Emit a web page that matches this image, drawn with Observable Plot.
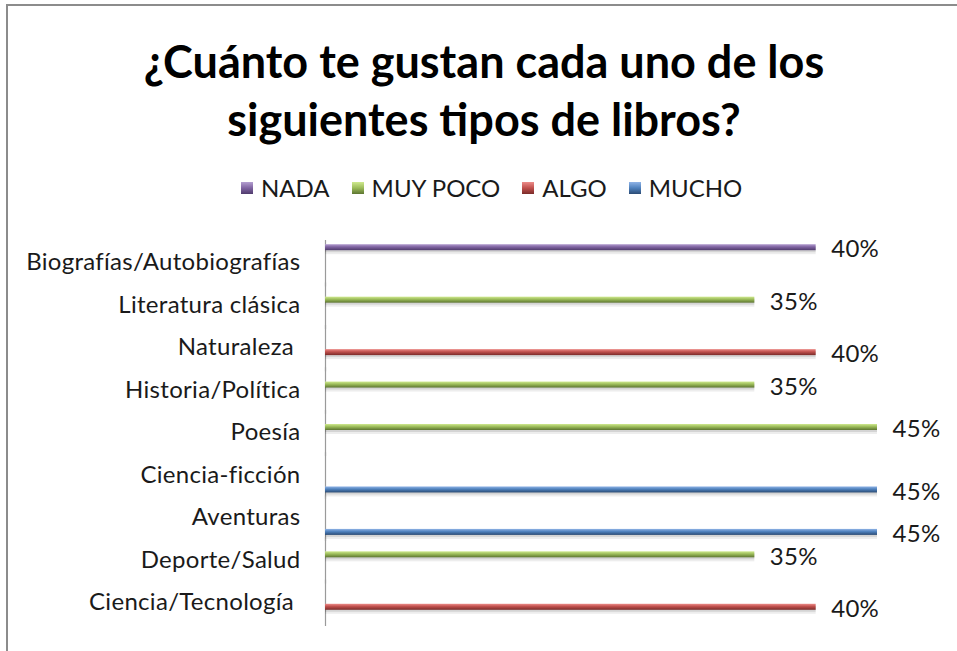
<!DOCTYPE html>
<html>
<head>
<meta charset="utf-8">
<script src="https://cdn.jsdelivr.net/npm/d3@7"></script>
<script src="https://cdn.jsdelivr.net/npm/@observablehq/plot@0.6"></script>
<style>
  html, body { margin: 0; padding: 0; background: #fff; }
  body { width: 957px; height: 651px; position: relative; overflow: hidden; font-family: Lato, "Open Sans", sans-serif; color: #1a1a1a; }
  #frame { position: absolute; left: 6px; top: 4px; width: 980px; height: 700px; border-left: 2px solid #8c8c8c; border-top: 2px solid #8c8c8c; }
  #title { position: absolute; left: 0; width: 968px; top: 32px; text-align: center; font-weight: 700; font-size: 45px; line-height: 58px; color: #000; }
  #legend { position: absolute; top: 173px; left: 241px; display: flex; align-items: center; font-size: 24px; letter-spacing: 0px; white-space: nowrap; }
  #legend .item { display: flex; align-items: center; margin-right: 22px; }
  #legend .sw { width: 12px; height: 12px; margin-right: 8px; }
  #chart { position: absolute; left: 0; top: 230px; }
  #chart svg text { letter-spacing: 0.3px; }
</style>
</head>
<body>
<div id="frame"></div>
<div id="title">¿Cuánto te gustan cada uno de los<br>siguientes tipos de libros?</div>
<div id="legend"></div>
<div id="chart"></div>
<script>
// ---- data ----
const categories = ["Biografías/Autobiografías", "Literatura clásica", "Naturaleza\u00a0", "Historia/Política", "Poesía", "Ciencia-ficción", "Aventuras", "Deporte/Salud", "Ciencia/Tecnología\u00a0"];
const values = [40, 35, 40, 35, 45, 45, 45, 35, 40];
const seriesOf = ["NADA", "MUY POCO", "ALGO", "MUY POCO", "MUY POCO", "MUCHO", "MUCHO", "MUY POCO", "ALGO"];
const seriesNames = ["NADA", "MUY POCO", "ALGO", "MUCHO"];
const seriesColors = ["#8064a2", "#9bbb59", "#c0504d", "#4f81bd"];
const seriesLight = ["#b49fd0", "#cfe98f", "#ec8c89", "#8fb3e6"];
const seriesDark = ["#4f3b6c", "#5d7531", "#7a2b29", "#2b4b74"];

const table = categories.map((c, i) => ({cat: c, value: values[i], serie: seriesOf[i]}));
const gradIds = seriesNames.map((s, i) => "grad" + i);

// ---- legend ----
const legend = document.getElementById("legend");
seriesNames.forEach((s, i) => {
  const it = document.createElement("div");
  it.className = "item";
  const sw = document.createElement("div");
  sw.className = "sw";
  sw.style.background = `linear-gradient(to bottom, ${seriesLight[i]}, ${seriesColors[i]} 50%, ${seriesDark[i]})`;
  const tx = document.createElement("span");
  tx.textContent = s;
  it.appendChild(sw); it.appendChild(tx);
  legend.appendChild(it);
});

// ---- chart ----
const chart = Plot.plot({
  width: 957,
  height: 400,
  marginLeft: 325,
  marginRight: 80,
  marginTop: 11,
  marginBottom: 7,
  style: {fontSize: "24px", fontFamily: "Lato, 'Open Sans', sans-serif", color: "#1a1a1a", background: "transparent", overflow: "visible"},
  x: {domain: [0, 45], axis: null},
  fy: {domain: categories, padding: 0, round: false, axis: null},
  y: {domain: seriesNames, paddingInner: 0.4, paddingOuter: 0.32, round: false, axis: null},
  color: {domain: seriesNames, range: gradIds.map(id => `url(#${id})`)},
  marks: [
    Plot.axisFy({anchor: "left", tickSize: 0, tickPadding: 25, label: null, fontSize: 24, fill: "#1a1a1a"}),
    Plot.ruleX([0], {stroke: "#9a9a9a", strokeWidth: 1.2, insetTop: -1, insetBottom: -3}),
    Plot.barX(table, {fy: "cat", y: "serie", x: "value", fill: "#000", fillOpacity: 0.07, dy: 3, insetTop: -1, insetBottom: -1}),
    Plot.barX(table, {fy: "cat", y: "serie", x: "value", fill: "#000", fillOpacity: 0.1, dy: 2}),
    Plot.barX(table, {fy: "cat", y: "serie", x: "value", fill: "serie"}),
    Plot.text(table, {fy: "cat", y: "serie", x: "value", text: d => d.value + "%", dx: 15, dy: 2, textAnchor: "start", fontSize: 24, fill: "#1a1a1a"})
  ]
});

// gradient defs
const ns = "http://www.w3.org/2000/svg";
const defs = document.createElementNS(ns, "defs");
seriesNames.forEach((s, i) => {
  const g = document.createElementNS(ns, "linearGradient");
  g.setAttribute("id", gradIds[i]);
  g.setAttribute("x1", "0"); g.setAttribute("y1", "0"); g.setAttribute("x2", "0"); g.setAttribute("y2", "1");
  [[0, seriesLight[i]], [0.45, seriesColors[i]], [1, seriesDark[i]]].forEach(([o, c]) => {
    const st = document.createElementNS(ns, "stop");
    st.setAttribute("offset", o);
    st.setAttribute("stop-color", c);
    g.appendChild(st);
  });
  defs.appendChild(g);
});
const svg = chart.tagName.toLowerCase() === "svg" ? chart : chart.querySelector("svg");
svg.insertBefore(defs, svg.firstChild);
document.getElementById("chart").appendChild(chart);
</script>
</body>
</html>
